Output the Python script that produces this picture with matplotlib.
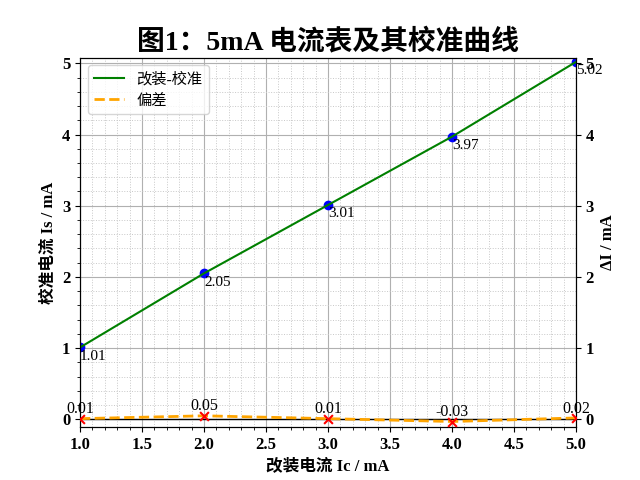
import matplotlib
matplotlib.use('Agg')
from matplotlib import pyplot as plt
from matplotlib.ticker import MultipleLocator

plt.rcParams['font.family'] = ['Liberation Serif', 'Noto Sans CJK SC']
plt.rcParams['axes.unicode_minus'] = False

# 改装表读数 / 标准表读数 / 偏差 (mA)
ic = [1.0, 2.0, 3.0, 4.0, 5.0]
is_vals = [1.01, 2.05, 3.01, 3.97, 5.02]
delta = [0.01, 0.05, 0.01, -0.03, 0.02]


def draw():
    fig, ax = plt.subplots(figsize=(6.4, 4.8), dpi=100)

    ax.scatter(ic, is_vals, color='blue', s=36, zorder=2)
    line1, = ax.plot(ic, is_vals, color='green', lw=1.5, label='改装-校准', zorder=3)
    for x, y in zip(ic, is_vals):
        ax.text(x, y - 0.03, '%.2f' % y, ha='left', va='top', fontsize=11)

    ax.set_xlim(1.0, 5.0)
    ax.set_ylim(-0.11, 5.08)
    ax.xaxis.set_major_locator(MultipleLocator(0.5))
    ax.xaxis.set_minor_locator(MultipleLocator(0.1))
    ax.yaxis.set_major_locator(MultipleLocator(1))
    ax.yaxis.set_minor_locator(MultipleLocator(0.2))
    ax.grid(which='major', color='#b0b0b0', lw=0.8)
    ax.grid(which='minor', color='#c8c8c8', ls=':', lw=0.7)
    ax.set_xlabel('改装电流 Ic / mA', fontsize=12, fontweight='bold')
    ax.set_ylabel('校准电流 Is / mA', fontsize=12, fontweight='bold')
    ax.tick_params(labelsize=12)
    for lbl in ax.get_xticklabels() + ax.get_yticklabels():
        lbl.set_fontweight('bold')

    ax2 = ax.twinx()
    ax2.axhline(0, color='black', lw=1)
    line2, = ax2.plot(ic, delta, color='orange', ls='--', lw=2, label='偏差')
    ax2.scatter(ic, delta, color='red', marker='x', s=40, zorder=3)
    for x, d in zip(ic, delta):
        ax2.annotate('%.2f' % d, (x, d), textcoords='offset points', xytext=(0, 1),
                     ha='center', va='bottom', fontsize=11.5)
    ax2.set_ylim(ax.get_ylim())
    ax2.yaxis.set_major_locator(MultipleLocator(1))
    ax2.set_ylabel('ΔI / mA', fontsize=12, fontweight='bold')
    ax2.tick_params(labelsize=12)
    for lbl in ax2.get_yticklabels():
        lbl.set_fontweight('bold')

    ax.legend(handles=[line1, line2], loc='upper left', fontsize=11)
    ax.set_title('图1：5mA 电流表及其校准曲线', fontsize=20, fontweight='bold')

    plt.savefig('out.png')


if __name__ == '__main__':
    draw()
